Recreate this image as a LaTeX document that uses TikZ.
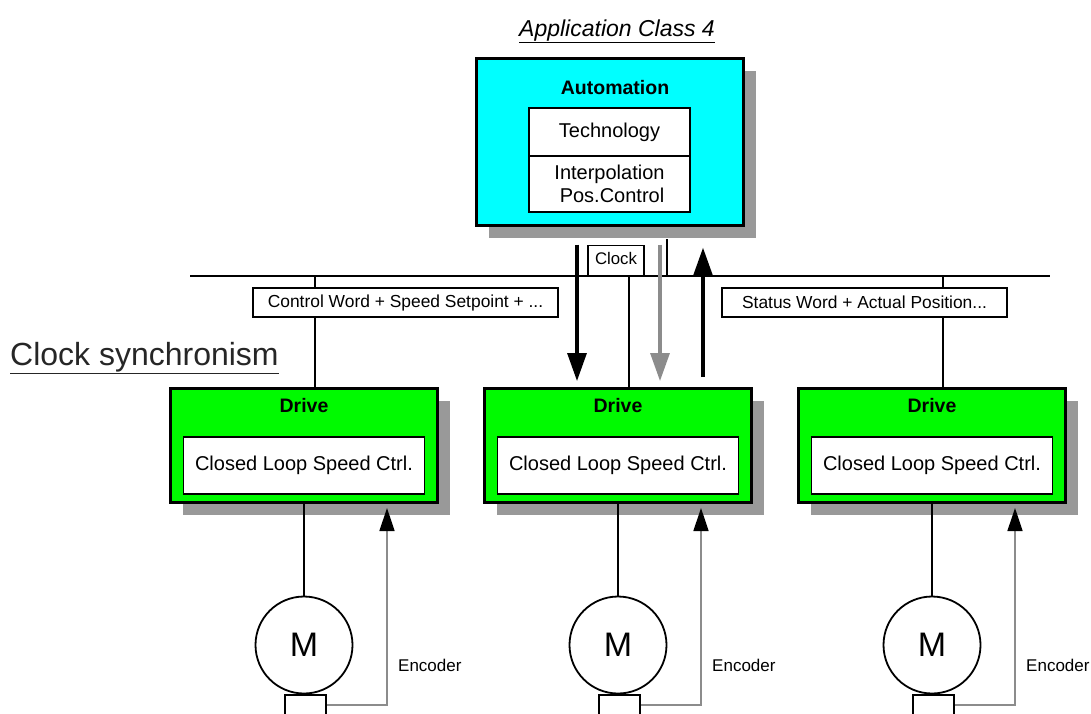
\documentclass[tikz,border=0pt]{standalone}
\usepackage{fontspec}
\setmainfont{Liberation Sans}
\usepackage{tikz}
\usetikzlibrary{arrows.meta, shadows, positioning}
\usepackage{xcolor}
\definecolor{shadowgray}{RGB}{153,153,153}
\definecolor{arrowgray}{RGB}{140,140,140}
\definecolor{autocyan}{RGB}{0,255,255}
\definecolor{drivegreen}{RGB}{0,250,0}
\newcommand{\fsz}[2]{\fontsize{#1}{#2}\selectfont}

\begin{document}
\begin{tikzpicture}[x=1pt, y=-1pt,
    boxshadow/.style={drop shadow={shadow xshift=12pt, shadow yshift=-12pt, fill=shadowgray, opacity=1}},
    autobox/.style={draw, line width=3pt, fill=autocyan, inner sep=0pt, minimum width=267pt, minimum height=167pt, boxshadow},
    drivebox/.style={draw, line width=3pt, fill=drivegreen, inner sep=0pt, minimum width=267pt, minimum height=114pt, boxshadow},
    boldtitle/.style={font=\fsz{19.5}{19.5}\bfseries, inner sep=0pt},
    innerbox/.style={draw, line width=1.8pt, fill=white, inner sep=0pt, minimum width=161pt, font=\fsz{20}{23}},
    labelbox/.style={draw, line width=1.3pt, fill=white, inner sep=0pt, font=\fsz{17.4}{17.4}},
    motor/.style={draw, circle, line width=1.8pt, inner sep=0pt, minimum size=97pt, font=\fsz{34}{34}},
    encbox/.style={draw, line width=1.5pt, fill=white, inner sep=0pt, minimum width=41pt, minimum height=20pt},
    enclabel/.style={anchor=west, inner sep=0pt, font=\fsz{17}{17}},
    busline/.style={line width=1.5pt},
    motorline/.style={line width=2.5pt},
    encline/.style={draw=arrowgray, line width=1.5pt, -{Triangle[length=23pt, width=15pt, black]}},
    bigarrow/.style={line width=3.2pt, -{Triangle[length=28pt, width=19pt]}}]
    \clip (0,0) rectangle (1091,713);
    % Headings
    \node[anchor=base, inner sep=0pt] (appClass) at (617,36) {\fsz{23}{23}\itshape\underline{Application Class 4}};
    \node[anchor=base west, inner sep=0pt, text=black!85] (clockSync) at (10,365) {\fsz{32}{32}\underline{Clock synchronism}};
    % Bus
    \coordinate (busL) at (190,276);
    \coordinate (busR) at (1050,276);
    \draw[busline] (busL) -- (busR);
    % Automation
    \node[autobox] (auto) at (610,142) {};
    \node[boldtitle] (autoTitle) at (615,88) {Automation};
    \node[innerbox, minimum height=48pt] (tech) at (609.5,132) {Technology};
    \node[innerbox, minimum height=56pt, align=center] (interp) at (609.5,184) {Interpolation\\\hspace*{5pt}Pos.Control};
    \draw[busline] ([xshift=57pt, yshift=-12pt]auto.south) -- ([xshift=57pt]auto.south |- busL);
    % Clock
    \node[labelbox, font=\fsz{16.8}{16.8}, minimum width=56pt, minimum height=30pt, anchor=south] (clk) at (616,276) {\raisebox{4pt}{Clock}};
    % Drives with motors
    \foreach \n/\x in {A/304, B/618, C/932} {
        \node[drivebox] (drv\n) at (\x,445.5) {};
        \node[boldtitle] (drvTitle\n) at (\x,406) {Drive};
        \node[innerbox, minimum width=241pt, minimum height=57pt] (loop\n) at (\x,465.5) {Closed Loop Speed Ctrl.};
        \draw[busline] ([xshift=11pt]drv\n.north) -- ([xshift=11pt]drv\n.north |- busL);
        \node[motor] (mot\n) at (\x,645) {M};
        \node[encbox] (enc\n) at (\x+1.5,705) {};
        \draw[motorline] (drv\n.south) -- (mot\n.north);
        \draw[encline] (enc\n.east) -| ([xshift=83pt, yshift=-4pt]drv\n.south);
        \node[enclabel] (encLabel\n) at (\x+94,665) {Encoder};
    }
    % Telegrams
    \node[labelbox, minimum width=305pt, minimum height=29pt] (ctrlWord) at (405.5,302.5) {Control Word + Speed Setpoint + ...};
    \node[labelbox, minimum width=285pt, minimum height=29pt] (statWord) at (864.5,302.5) {Status Word + Actual Position...};
    % Arrows
    \draw[bigarrow] ([xshift=-41pt]drvB.north |- clk.north) -- ([xshift=-41pt, yshift=6pt]drvB.north);
    \draw[bigarrow, arrowgray] ([xshift=42pt]drvB.north |- clk.north) -- ([xshift=42pt, yshift=6pt]drvB.north);
    \draw[bigarrow] ([xshift=85pt, yshift=10pt]drvB.north) -- ([xshift=85pt, yshift=-3pt]drvB.north |- clk.north);
\end{tikzpicture}
\end{document}
